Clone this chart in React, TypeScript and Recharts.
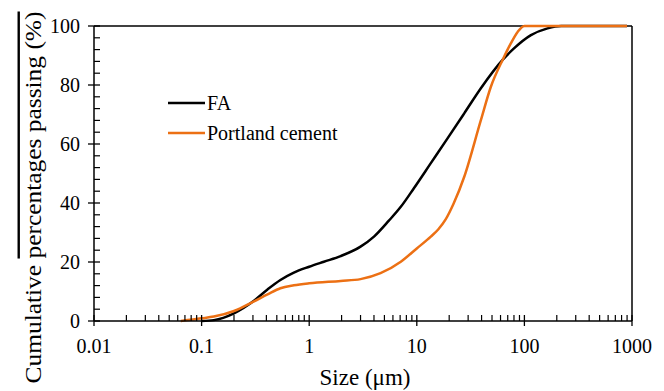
import React from 'react';
import { LineChart, Line, XAxis, YAxis, ReferenceLine, Legend } from 'recharts';

// particle size (µm) and cumulative passing (%)
const faSize = [0.1, 0.13, 0.2, 0.3, 0.41, 0.54, 0.72, 1, 1.37, 1.96, 3, 4, 5.5, 7.1, 9.4, 13.5, 19.3, 27.6, 39.4, 62.7, 80, 115, 164, 220, 900];
const faPass = [0, 0.3, 2.6, 6.6, 10.7, 13.9, 16.4, 18.4, 20.1, 22, 25.2, 28.6, 34, 38.7, 45, 53.5, 61.9, 70.4, 78.9, 88.5, 92.4, 96.9, 99.2, 100, 100];

const opcSize = [0.064, 0.1, 0.13, 0.2, 0.3, 0.41, 0.54, 0.72, 1, 1.96, 3, 4.6, 7.1, 10, 13.5, 15.8, 18.6, 22, 27.6, 39.4, 48.8, 62.7, 74.8, 86.5, 100, 900];
const opcPass = [0, 0.9, 1.5, 3.4, 6.5, 9, 11.1, 12.1, 12.8, 13.6, 14.2, 16.2, 20.1, 24.6, 28.6, 31, 34.5, 39.8, 48.9, 68.1, 79.4, 88.5, 94.1, 98, 100, 100];

const decades = [0.01, 0.1, 1, 10, 100];
const xTicks: number[] = [];
decades.forEach((d) => {
    for (let m = 1; m <= 9; m++) xTicks.push(m * d);
});
xTicks.push(1000);

const yTicks: number[] = [];
for (let v = 0; v <= 100; v += 4) yTicks.push(v);

const faData = faSize.map((s, i) => ({ size: s, pass: faPass[i] }));
const opcData = opcSize.map((s, i) => ({ size: s, pass: opcPass[i] }));

const FONT = '"Liberation Serif", "Times New Roman", serif';
const ORANGE = '#EC7014';

const isDecade = (v: number) => Math.abs(Math.log10(v) - Math.round(Math.log10(v))) < 1e-6;

const XTick = (props: any) => {
    const { x, y, payload } = props;
    const v = payload.value;
    if (isDecade(v)) {
        return (
            <g>
                <line x1={x} x2={x} y1={y - 6} y2={y + 5} stroke="#000" strokeWidth={1.3} />
                <text x={x} y={y + 25} dy="0.355em" textAnchor="middle" fontFamily={FONT} fontSize={20} fill="#000">
                    {String(Math.round(v * 100) / 100)}
                </text>
            </g>
        );
    }
    return <line x1={x} x2={x} y1={y} y2={y - 6} stroke="#000" strokeWidth={1.2} />;
};

const YTick = (props: any) => {
    const { x, y, payload } = props;
    const v = payload.value;
    if (v % 20 === 0) {
        return (
            <g>
                <line x1={x - 6} x2={x + 6} y1={y} y2={y} stroke="#000" strokeWidth={1.3} />
                <text x={x - 14} y={y} dy="0.355em" textAnchor="end" fontFamily={FONT} fontSize={20} fill="#000">
                    {v}
                </text>
            </g>
        );
    }
    return <line x1={x} x2={x + 6} y1={y} y2={y} stroke="#000" strokeWidth={1.2} />;
};

const XTitle = ({ viewBox }: any) => (
    <text x={viewBox.x + viewBox.width / 2 + 2} y={viewBox.y + 56} dy="0.355em" textAnchor="middle" fontFamily={FONT} fontSize={23} fill="#000">
        Size (μm)
    </text>
);

const YTitle = ({ viewBox }: any) => {
    const cx = 24;
    const cy = viewBox.y + viewBox.height / 2 + 24;
    return (
        <text x={cx} y={cy} dy="0.355em" textAnchor="middle" transform={`rotate(-90 ${cx} ${cy})`} fontFamily={FONT} fontSize={24} fill="#000" textLength={372} lengthAdjust="spacingAndGlyphs">
            <tspan>Cumulative </tspan>
            <tspan style={{ textDecoration: 'overline' }}>percentages passing (%)</tspan>
        </text>
    );
};

const legendItems = [
    { label: 'FA', color: '#000' },
    { label: 'Portland cement', color: ORANGE },
];

const LegendBox = () => (
    <div style={{ fontFamily: FONT, fontSize: 20, color: '#000' }}>
        {legendItems.map((it) => (
            <div key={it.label} style={{ display: 'flex', alignItems: 'center', height: 30, whiteSpace: 'nowrap' }}>
                <svg width={37} height={6} style={{ marginRight: 2 }}>
                    <line x1={0} x2={37} y1={3} y2={3} stroke={it.color} strokeWidth={2.5} />
                </svg>
                <span>{it.label}</span>
            </div>
        ))}
    </div>
);

const App = () => {
    return (
        <LineChart width={656} height={383} margin={{ top: 18, right: 32, bottom: 0, left: 0 }}>
            <XAxis
                dataKey="size"
                type="number"
                scale="log"
                domain={[0.01, 1000]}
                ticks={xTicks}
                interval={0}
                allowDataOverflow
                height={70}
                tickSize={0}
                tickMargin={0}
                tickLine={false}
                axisLine={{ stroke: '#000', strokeWidth: 1.5 }}
                tick={<XTick />}
                label={<XTitle />}
            />
            <YAxis
                type="number"
                domain={[0, 100]}
                ticks={yTicks}
                interval={0}
                width={86}
                tickSize={0}
                tickMargin={0}
                tickLine={false}
                axisLine={{ stroke: '#000', strokeWidth: 1.5 }}
                tick={<YTick />}
                label={<YTitle />}
            />
            <ReferenceLine y={100} stroke="#000" strokeWidth={1.5} />
            <ReferenceLine x={1000} stroke="#000" strokeWidth={1.5} />
            <Legend
                layout="vertical"
                align="center"
                verticalAlign="middle"
                content={<LegendBox />}
                wrapperStyle={{ left: 160, top: 80, width: 'auto' }}
            />
            <Line data={faData} dataKey="pass" name="FA" type="monotone" stroke="#000" strokeWidth={2.5} dot={false} isAnimationActive={false} />
            <Line data={opcData} dataKey="pass" name="Portland cement" type="monotone" stroke={ORANGE} strokeWidth={2.5} dot={false} isAnimationActive={false} />
        </LineChart>
    );
};

export default App;
